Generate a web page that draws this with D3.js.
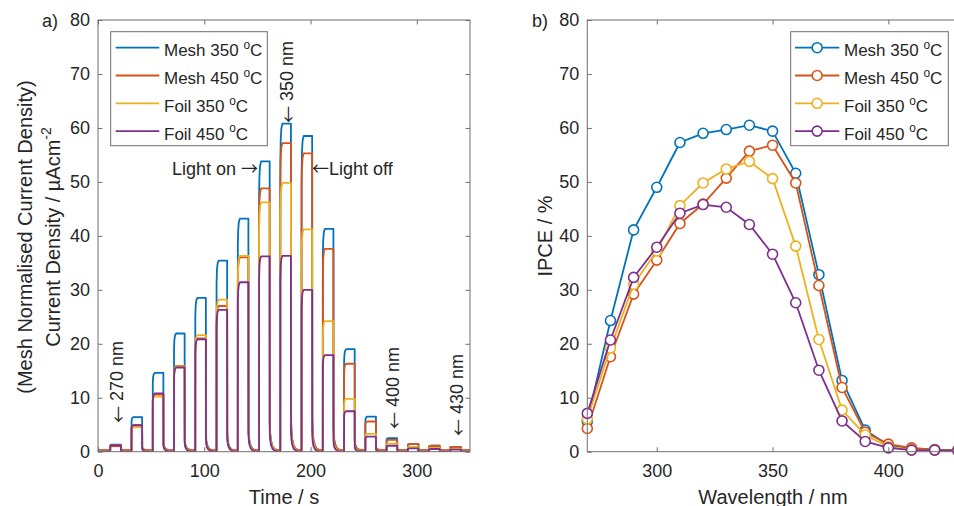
<!DOCTYPE html>
<html>
<head>
<meta charset="utf-8">
<script src="https://cdn.jsdelivr.net/npm/d3@7"></script>
<style>
  body { margin: 0; background: #fff; }
  text { font-family: "Liberation Sans", Arial, Helvetica, sans-serif; fill: #262626; }
  .arrow { font-family: "Noto Sans CJK JP", "DejaVu Sans", sans-serif; }
</style>
</head>
<body>
<svg id="fig" width="954" height="506"></svg>
<script>
// ---- data ----
const wavelengths = [270, 280, 290, 300, 310, 320, 330, 340, 350, 360, 370, 380, 390, 400, 410, 420, 430];
const seriesLabels = ["Mesh 350 ", "Mesh 450 ", "Foil 350 ", "Foil 450 "];
const seriesColors = ["#0072BD", "#D95319", "#EDB120", "#7E2F8E"];

// chopped-light timing (s): one pulse per wavelength
const lightOnTimes  = [11.5, 31.5, 51.5, 71.5, 91.5, 111.5, 131.5, 151.5, 171.5, 191.5, 211.5, 231.5, 251.5, 271.5, 291.5, 311.5, 331.5];
const lightOffTimes = [21.5, 41.5, 61.5, 81.5, 101.5, 121.5, 141.5, 161.5, 181.5, 201.5, 221.5, 241.5, 261.5, 281.5, 301.5, 321.5, 341.5];

// photocurrent plateau under illumination (µA cm^-2)
const mesh350Current = [1.3, 6.4, 14.6, 21.9, 28.5, 35.4, 43.2, 53.8, 60.8, 58.5, 41.3, 19.0, 6.5, 2.5, 1.4, 1.1, 0.9];
const mesh450Current = [1.2, 4.9, 10.6, 15.9, 21.0, 27.0, 36.0, 48.8, 57.2, 55.3, 37.6, 16.3, 5.6, 2.2, 1.4, 1.1, 0.9];
const foil350Current = [1.0, 4.5, 10.2, 15.8, 21.6, 28.2, 36.3, 46.2, 49.8, 41.2, 24.2, 9.8, 3.3, 1.5, 0.9, 0.7, 0.5];
const foil450Current = [1.1, 4.9, 10.8, 15.6, 20.8, 26.3, 31.4, 36.2, 36.3, 30.0, 17.9, 7.5, 2.8, 1.1, 0.6, 0.5, 0.4];
// dark current between pulses
const darkCurrent = [0.25, 0.3, 0.15, 0.05];

// transient response shape: [seconds after switching, fraction of the step]
const riseProfile  = [[0.05, 0.88], [0.4, 0.95], [1.0, 0.985], [2.0, 1.0]];
const decayProfile = [[0.1, 0.1], [0.5, 0.06], [1.2, 0.035], [2.5, 0.015], [4.5, 0.004], [7.0, 0.0]];

// IPCE (%)
const mesh350Ipce = [5.6, 24.3, 41.1, 49.0, 57.3, 59.0, 59.7, 60.5, 59.4, 51.6, 32.8, 13.2, 4.0, 1.2, 0.6, 0.4, 0.3];
const mesh450Ipce = [4.3, 17.6, 29.2, 35.5, 42.3, 45.9, 50.7, 55.7, 56.8, 49.8, 30.8, 11.9, 3.6, 1.4, 0.7, 0.4, 0.3];
const foil350Ipce = [6.1, 19.2, 31.0, 37.2, 45.6, 49.8, 52.4, 53.8, 50.6, 38.1, 20.8, 7.7, 3.1, 0.9, 0.4, 0.3, 0.2];
const foil450Ipce = [7.1, 20.7, 32.3, 37.9, 44.2, 45.8, 45.3, 42.1, 36.6, 27.6, 15.1, 5.7, 1.9, 0.7, 0.3, 0.3, 0.2];

const yTicks = [0, 10, 20, 30, 40, 50, 60, 70, 80];
const timeTicks = [0, 100, 200, 300];
const wavelengthTicks = [300, 350, 400];

const currentSeries = [mesh350Current, mesh450Current, foil350Current, foil450Current];
const ipceSeries = [mesh350Ipce, mesh450Ipce, foil350Ipce, foil450Ipce];

// ---- layout ----
const svg = d3.select("#fig");
svg.append("rect").attr("width", 954).attr("height", 506).attr("fill", "#fff");

const plotTop = 20, plotBottom = 451.7;
const axisColor = "#6e6e6e";
const tickLen = 4.5;

const xT = d3.scaleLinear().domain([0, 350]).range([98, 470]);
const yL = d3.scaleLinear().domain([0, 80]).range([plotBottom, plotTop]);
const xW = d3.scaleLinear().domain([270, 440]).range([587.3, 981]);
const yR = d3.scaleLinear().domain([0, 80]).range([plotBottom, plotTop]);

function frame(x, y, xt, yt) {
  const g = svg.append("g");
  const [x0, x1] = x.range();
  const [y0, y1] = y.range();
  g.append("g").attr("transform", `translate(0,${y0})`)
    .call(d3.axisBottom(x).tickValues(xt).tickSizeInner(-tickLen).tickSizeOuter(0).tickPadding(13));
  g.append("g").attr("transform", `translate(0,${y1})`)
    .call(d3.axisTop(x).tickValues(xt).tickSizeInner(-tickLen).tickSizeOuter(0).tickFormat(""));
  g.append("g").attr("transform", `translate(${x0},0)`)
    .call(d3.axisLeft(y).tickValues(yt).tickSizeInner(-tickLen).tickSizeOuter(0).tickPadding(8));
  g.append("g").attr("transform", `translate(${x1},0)`)
    .call(d3.axisRight(y).tickValues(yt).tickSizeInner(-tickLen).tickSizeOuter(0).tickFormat(""));
  g.selectAll(".domain").remove();
  g.selectAll(".tick line").attr("stroke", axisColor).attr("stroke-width", 1);
  g.selectAll(".tick text").attr("font-size", 18).attr("fill", "#262626")
    .attr("font-family", '"Liberation Sans", Arial, sans-serif');
  g.append("rect").attr("x", x0).attr("y", y1).attr("width", x1 - x0).attr("height", y0 - y1)
    .attr("fill", "none").attr("stroke", axisColor).attr("stroke-width", 1);
  return g;
}

// ---- panel a: photocurrent transients ----
svg.append("clipPath").attr("id", "clipA").append("rect")
  .attr("x", 98).attr("y", plotTop).attr("width", 372).attr("height", plotBottom - plotTop);

function transient(plateaus, base) {
  const pts = [[0, base]];
  plateaus.forEach((p, i) => {
    const on = lightOnTimes[i], off = lightOffTimes[i];
    pts.push([on, base]);
    riseProfile.forEach(([dt, f]) => pts.push([on + dt, base + f * (p - base)]));
    pts.push([off, p]);
    decayProfile.forEach(([dt, f]) => pts.push([off + dt, base + f * (p - base)]));
  });
  pts.push([350, base]);
  return pts;
}

const lineA = d3.line().x(d => xT(d[0])).y(d => yL(d[1]));
const gA = svg.append("g").attr("clip-path", "url(#clipA)");
currentSeries.forEach((s, i) => {
  gA.append("path").attr("d", lineA(transient(s, darkCurrent[i])))
    .attr("fill", "none").attr("stroke", seriesColors[i]).attr("stroke-width", 1.8)
    .attr("stroke-linejoin", "round");
});
frame(xT, yL, timeTicks, yTicks);

// ---- panel b: IPCE spectra ----
const lineB = d3.line().x((d, j) => xW(wavelengths[j])).y(d => yR(d));
ipceSeries.forEach((s, i) => {
  const g = svg.append("g");
  g.append("path").attr("d", lineB(s)).attr("fill", "none")
    .attr("stroke", seriesColors[i]).attr("stroke-width", 1.8);
  g.selectAll("circle").data(s).join("circle")
    .attr("cx", (d, j) => xW(wavelengths[j])).attr("cy", d => yR(d)).attr("r", 5)
    .attr("fill", "#fff").attr("stroke", seriesColors[i]).attr("stroke-width", 1.6);
});
frame(xW, yR, wavelengthTicks, yTicks);

// ---- legends ----
function degreeLabel(sel, label, size) {
  sel.append("tspan").text(label);
  sel.append("tspan").attr("font-size", size * 0.7).attr("dy", -size * 0.42).text("o");
  sel.append("tspan").attr("dy", size * 0.42).text("C");
}
function legend(x, y, w, h, lineX0, lineX1, textX, markers) {
  const g = svg.append("g");
  g.append("rect").attr("x", x).attr("y", y).attr("width", w).attr("height", h)
    .attr("fill", "#fff").attr("stroke", axisColor).attr("stroke-width", 1);
  seriesLabels.forEach((lab, i) => {
    const cy = y + 16 + i * 27.8;
    g.append("line").attr("x1", lineX0).attr("x2", lineX1).attr("y1", cy).attr("y2", cy)
      .attr("stroke", seriesColors[i]).attr("stroke-width", 1.8);
    if (markers) {
      g.append("circle").attr("cx", (lineX0 + lineX1) / 2).attr("cy", cy).attr("r", 5)
        .attr("fill", "#fff").attr("stroke", seriesColors[i]).attr("stroke-width", 1.6);
    }
    const t = g.append("text").attr("x", textX).attr("y", cy + 8.5).attr("font-size", 17);
    degreeLabel(t, lab, 17);
  });
}
legend(110.7, 31.7, 156.6, 114, 115.7, 159.3, 164, false);
legend(790.7, 31.7, 157.6, 114, 795, 839.3, 844, true);

// ---- labels ----
const labelSize = 20;
svg.append("text").attr("x", 42).attr("y", 27).attr("font-size", 18).text("a)");
svg.append("text").attr("x", 532).attr("y", 27).attr("font-size", 18).text("b)");

svg.append("text").attr("x", 284).attr("y", 503.5).attr("text-anchor", "middle")
  .attr("font-size", labelSize).text("Time / s");
svg.append("text").attr("x", 773).attr("y", 503.5).attr("text-anchor", "middle")
  .attr("font-size", labelSize).text("Wavelength / nm");

svg.append("text").attr("transform", "translate(31.5,237) rotate(-90)")
  .attr("text-anchor", "middle").attr("font-size", labelSize)
  .text("(Mesh Normalised Current Density)");
const yl2 = svg.append("text").attr("transform", "translate(59.5,237) rotate(-90)")
  .attr("text-anchor", "middle").attr("font-size", labelSize);
yl2.append("tspan").text("Current Density / µAcm");
yl2.append("tspan").attr("font-size", 14).attr("dy", -9).text("-2");

svg.append("text").attr("transform", "translate(552,236) rotate(-90)")
  .attr("text-anchor", "middle").attr("font-size", labelSize).text("IPCE / %");

// ---- annotations on panel a ----
const annSize = 18;
[[117, 423, "270 nm"], [287, 123, "350 nm"], [393, 429, "400 nm"], [457, 436, "430 nm"]]
  .forEach(([x, y, s]) => {
    const t = svg.append("text").attr("transform", `translate(${x},${y}) rotate(-90)`)
      .attr("dominant-baseline", "central").attr("font-size", annSize);
    t.append("tspan").attr("class", "arrow").attr("font-size", 17).text("\u2190");
    t.append("tspan").text(" " + s);
  });
const lightOn = svg.append("text").attr("x", 258).attr("y", 175).attr("text-anchor", "end")
  .attr("font-size", annSize);
lightOn.append("tspan").text("Light on ");
lightOn.append("tspan").attr("class", "arrow").attr("font-size", 17).text("\u2192");
const lightOff = svg.append("text").attr("x", 312).attr("y", 175).attr("font-size", annSize);
lightOff.append("tspan").attr("class", "arrow").attr("font-size", 17).text("\u2190");
lightOff.append("tspan").text("Light off");
</script>
</body>
</html>
